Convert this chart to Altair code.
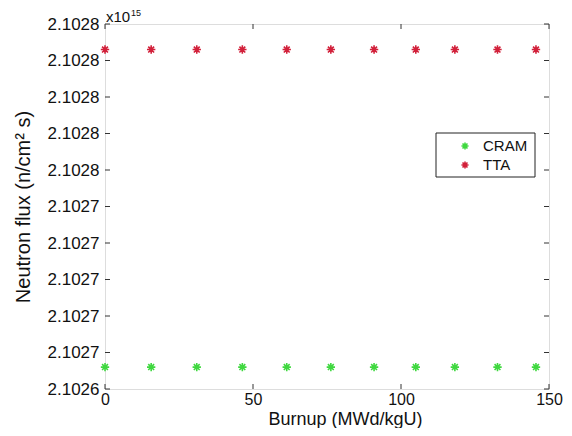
import altair as alt
import pandas as pd

# ---- data (flux in units of 1e15 n/cm^2 s) ----
burnup = [0, 15.6, 31.0, 46.4, 61.4, 76.3, 90.9, 105.0, 118.2, 132.6, 145.6]
cram = [2.102652, 2.102652, 2.102652, 2.102652, 2.102652, 2.102652,
        2.102652, 2.102652, 2.102652, 2.102652, 2.102652]
tta = [2.102826, 2.102826, 2.102826, 2.102826, 2.102826, 2.102826,
       2.102826, 2.102826, 2.102826, 2.102826, 2.102826]
series_names = ["CRAM", "TTA"]
series_colors = ["#3fd83f", "#d2203a"]
x_ticks = [0, 50, 100, 150]
y_ticks = [2.10264, 2.10266, 2.10268, 2.10270, 2.10272, 2.10274,
           2.10276, 2.10278, 2.10280, 2.10282, 2.10284]

df = pd.DataFrame({
    "burnup": burnup + burnup,
    "flux": cram + tta,
    "series": ["CRAM"] * len(burnup) + ["TTA"] * len(burnup),
})
ytick_df = pd.DataFrame({"v": y_ticks})
xtick_df = pd.DataFrame({"v": x_ticks})

W, H = 444, 365
FONT = "Liberation Sans"
ASTER = "M-1,0L1,0M0,-1L0,1M-0.7,-0.7L0.7,0.7M-0.7,0.7L0.7,-0.7"
AXC = "#333333"

xscale = alt.Scale(domain=[0, 150], nice=False)
yscale = alt.Scale(domain=[2.10264, 2.10284], nice=False, zero=False)

points = alt.Chart(df).mark_point(
    shape=ASTER, filled=False, size=70, strokeWidth=1.6, opacity=1
).encode(
    x=alt.X("burnup:Q", scale=xscale,
            axis=alt.Axis(values=x_ticks, tickCount=20, ticks=False,
                          domain=False, grid=False,
                          labelFlush=False, labelOverlap=False,
                          labelFontSize=16, labelPadding=2,
                          labelColor="#111", labelFont=FONT,
                          title="Burnup (MWd/kgU)", titleFont=FONT,
                          titleFontSize=18, titleFontWeight="normal",
                          titleColor="#111", titleX=240, titleY=30,
                          titleAlign="center", titleBaseline="middle")),
    y=alt.Y("flux:Q", scale=yscale,
            axis=alt.Axis(values=y_ticks, tickCount=20,
                          labelExpr="format(datum.value, '.4f')",
                          ticks=False, domain=False, grid=False,
                          labelOverlap=False,
                          labelFontSize=17, labelPadding=6, labelColor="#111",
                          labelFont=FONT, title="Neutron flux (n/cm² s)",
                          titleFont=FONT, titleFontSize=20,
                          titleFontWeight="normal", titleColor="#111",
                          titlePadding=14)),
    color=alt.Color("series:N", scale=alt.Scale(domain=series_names,
                                               range=series_colors),
                    legend=None),
)

# inward ticks on all four sides (MATLAB box style)
yt_left = alt.Chart(ytick_df).mark_rule(color=AXC, strokeWidth=1).encode(
    y=alt.Y("v:Q", scale=yscale), x=alt.value(0), x2=alt.value(5))
yt_right = alt.Chart(ytick_df).mark_rule(color=AXC, strokeWidth=1).encode(
    y=alt.Y("v:Q", scale=yscale), x=alt.value(W - 5), x2=alt.value(W))
xt_bot = alt.Chart(xtick_df).mark_rule(color=AXC, strokeWidth=1).encode(
    x=alt.X("v:Q", scale=xscale), y=alt.value(H - 5), y2=alt.value(H))
xt_top = alt.Chart(xtick_df).mark_rule(color=AXC, strokeWidth=1).encode(
    x=alt.X("v:Q", scale=xscale), y=alt.value(0), y2=alt.value(5))

# exponent label
exp_base = alt.Chart(pd.DataFrame({"t": ["x10"]})).mark_text(
    font=FONT, fontSize=15, align="left", baseline="middle", color="#111"
).encode(text="t:N", x=alt.value(1), y=alt.value(-7))
exp_sup = alt.Chart(pd.DataFrame({"t": ["15"]})).mark_text(
    font=FONT, fontSize=9, align="left", baseline="middle", color="#111"
).encode(text="t:N", x=alt.value(26), y=alt.value(-11))

# legend box
leg_box = alt.Chart(pd.DataFrame({"a": [0]})).mark_rect(
    fill="white", stroke="#222", strokeWidth=1
).encode(x=alt.value(331), x2=alt.value(430), y=alt.value(109), y2=alt.value(153))

legend_layers = [leg_box]
for i, (name, col) in enumerate(zip(series_names, series_colors)):
    d = pd.DataFrame({"name": [name]})
    legend_layers.append(alt.Chart(d).mark_point(
        shape=ASTER, filled=False, size=50, strokeWidth=1.6, color=col, opacity=1
    ).encode(x=alt.value(360), y=alt.value(122 + 19 * i)))
    legend_layers.append(alt.Chart(d).mark_text(
        font=FONT, fontSize=15, align="left", baseline="middle", color="#111"
    ).encode(text="name:N", x=alt.value(378), y=alt.value(122 + 19 * i)))

chart = alt.layer(
    points, yt_left, yt_right, xt_bot, xt_top, exp_base, exp_sup, *legend_layers
).properties(
    width=W, height=H, autosize="none",
    padding={"left": 97, "top": 16, "right": 15, "bottom": 39},
).configure_view(stroke=AXC, strokeWidth=1.2).configure(background="white")

chart.save("out.html", embed_options={"renderer": "svg", "actions": False})
